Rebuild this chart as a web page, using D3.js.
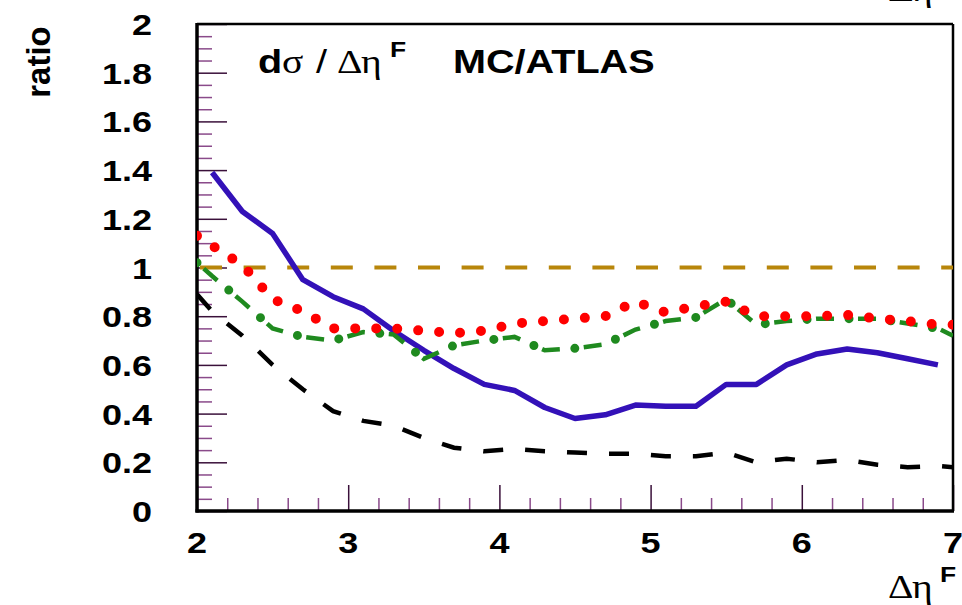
<!DOCTYPE html>
<html>
<head>
<meta charset="utf-8">
<script src="https://cdn.jsdelivr.net/npm/d3@7"></script>
<style>
  body { margin: 0; background: white; }
  svg { display: block; }
</style>
</head>
<body>
<svg id="chart" width="962" height="605"></svg>
<script>
// bin centres along delta eta^F
const binX = [2.0, 2.1, 2.3, 2.5, 2.7, 2.9, 3.1, 3.3, 3.5, 3.7, 3.9, 4.1, 4.3, 4.5,
              4.7, 4.9, 5.1, 5.3, 5.5, 5.7, 5.9, 6.1, 6.3, 6.5, 6.7, 6.9, 7.0];

// ratio MC/ATLAS per generator
const solidBlue = [null, 1.39, 1.23, 1.14, 0.95, 0.88, 0.83, 0.74, 0.66, 0.585, 0.52, 0.495, 0.425, 0.38,
                   0.395, 0.435, 0.43, 0.43, 0.52, 0.52, 0.60, 0.645, 0.665, 0.65, 0.625, 0.60, null];
const dottedRed = [1.13, 1.09, 1.01, 0.87, 0.82, 0.75, 0.75, 0.75, 0.74, 0.73, 0.74, 0.77, 0.78, 0.79,
                   0.80, 0.86, 0.815, 0.84, 0.86, 0.80, 0.80, 0.80, 0.805, 0.79, 0.78, 0.765, 0.765];
const dashDotGreen = [1.02, 0.965, 0.86, 0.75, 0.715, 0.70, 0.735, 0.725, 0.625, 0.68, 0.70, 0.715, 0.66, 0.668,
                      0.685, 0.745, 0.78, 0.795, 0.87, 0.765, 0.78, 0.79, 0.79, 0.79, 0.77, 0.75, 0.72];
const dashedBlack = [0.89, 0.82, 0.72, 0.60, 0.50, 0.41, 0.37, 0.35, 0.30, 0.26, 0.245, 0.255, 0.245, 0.24,
                     0.235, 0.235, 0.225, 0.225, 0.24, 0.20, 0.215, 0.20, 0.21, 0.19, 0.18, 0.185, 0.18];
const unityX = [2.0, 7.0];
const unityY = [1, 1];

const yTickLabels = [0, 0.2, 0.4, 0.6, 0.8, 1, 1.2, 1.4, 1.6, 1.8, 2];
const xTickLabels = [2, 3, 4, 5, 6, 7];

const svg = d3.select('#chart');
const sx = 1.2;   // picture is stretched horizontally
const sans = '"Liberation Sans", Arial, sans-serif';
const serif = '"Liberation Serif", "Times New Roman", serif';

const x = d3.scaleLinear().domain([2, 7]).range([197, 953]);
const y = d3.scaleLinear().domain([0, 2]).range([511, 24]);

svg.append('clipPath').attr('id', 'frame')
   .append('rect')
   .attr('x', x(2)).attr('y', y(2))
   .attr('width', x(7) - x(2)).attr('height', y(0) - y(2));

// ticks, ROOT style (inside the frame)
const yMinor = d3.range(0, 2.001, 0.05).map(v => +v.toFixed(2));
const xMinor = d3.range(2, 7.001, 0.2).map(v => +v.toFixed(1));
const isMajor = v => Math.abs(v * 5 - Math.round(v * 5)) < 1e-6;

const yAxis = svg.append('g')
   .attr('transform', `translate(${x(2)},0)`)
   .call(d3.axisRight(y).tickValues(yMinor).tickFormat('').tickSizeOuter(0));
yAxis.select('.domain').remove();
yAxis.selectAll('.tick line')
   .attr('x2', d => isMajor(d) ? 30 : 15)
   .attr('stroke', d => isMajor(d) ? '#3a103a' : '#8a4a8a')
   .attr('stroke-width', 1.5);

const xAxis = svg.append('g')
   .attr('transform', `translate(0,${y(0)})`)
   .call(d3.axisTop(x).tickValues(xMinor).tickFormat('').tickSizeOuter(0));
xAxis.select('.domain').remove();
xAxis.selectAll('.tick line')
   .attr('y2', d => Number.isInteger(d) ? -26 : -13)
   .attr('stroke', d => Number.isInteger(d) ? '#3a103a' : '#8a4a8a')
   .attr('stroke-width', 1.5);

// frame
svg.append('line').attr('x1', x(2)).attr('x2', x(7)).attr('y1', y(2)).attr('y2', y(2))
   .attr('stroke', '#000').attr('stroke-width', 2.5);
svg.append('line').attr('x1', x(7)).attr('x2', x(7)).attr('y1', y(2)).attr('y2', y(0))
   .attr('stroke', '#000').attr('stroke-width', 2.5);
svg.append('line').attr('x1', x(2)).attr('x2', x(2)).attr('y1', y(2) - 1).attr('y2', y(0) + 1.5)
   .attr('stroke', '#000').attr('stroke-width', 3.5);
svg.append('line').attr('x1', x(2) - 1.5).attr('x2', x(7) + 1).attr('y1', y(0)).attr('y2', y(0))
   .attr('stroke', '#000').attr('stroke-width', 3.5);

// stretched text helper
function put(px, py, txt, opts) {
   const o = Object.assign({ anchor: 'start', family: sans, weight: 'bold', size: 30 }, opts || {});
   svg.append('g')
      .attr('transform', `translate(${px},${py}) scale(${sx},1)`)
      .append('text')
      .attr('text-anchor', o.anchor)
      .style('font-family', o.family)
      .style('font-weight', o.weight)
      .style('font-size', o.size + 'px')
      .text(txt);
}

// tick labels
yTickLabels.forEach(v => put(152, y(v) + 11, String(v), { anchor: 'end' }));
xTickLabels.forEach(v => put(x(v), 553, String(v), { anchor: 'middle' }));

// curves
const plot = svg.append('g').attr('clip-path', 'url(#frame)');
const line = d3.line()
   .defined(d => d[1] !== null)
   .x(d => x(d[0])).y(d => y(d[1]));
const pts = vals => binX.map((b, i) => [b, vals[i]]);

plot.append('path')
   .attr('d', line(unityX.map((v, i) => [v, unityY[i]])))
   .attr('fill', 'none').attr('stroke', '#b8860b').attr('stroke-width', 4)
   .attr('stroke-dasharray', '22,21.6').attr('stroke-dashoffset', 40.6);

plot.append('path')
   .attr('d', line(pts(dashedBlack)))
   .attr('fill', 'none').attr('stroke', '#000').attr('stroke-width', 4.5)
   .attr('stroke-dasharray', '20,22');

plot.append('path')
   .attr('d', line(pts(solidBlue)))
   .attr('fill', 'none').attr('stroke', '#3311b8').attr('stroke-width', 5.5)
   .attr('stroke-linejoin', 'round');

plot.append('path')
   .attr('d', line(pts(dashDotGreen)))
   .attr('fill', 'none').attr('stroke', '#1f8a1f').attr('stroke-width', 4.5)
   .attr('stroke-dasharray', '18,24').attr('stroke-dashoffset', 33);
plot.append('path')
   .attr('d', line(pts(dashDotGreen)))
   .attr('fill', 'none').attr('stroke', '#1f8a1f').attr('stroke-width', 9)
   .attr('stroke-linecap', 'round')
   .attr('stroke-dasharray', '0,42');

plot.append('path')
   .attr('d', line(pts(dottedRed)))
   .attr('fill', 'none').attr('stroke', '#ff0000').attr('stroke-width', 10)
   .attr('stroke-linecap', 'round')
   .attr('stroke-dasharray', '0,21');

// title pieces
put(258, 73, 'd', { size: 33 });
put(282, 73, 'σ', { family: serif, weight: 'normal', size: 33 });
put(316, 73, '/', { weight: 'normal', size: 33 });
put(337, 73, 'Δ', { family: serif, weight: 'normal', size: 33 });
put(361, 73, 'η', { family: serif, weight: 'normal', size: 33 });
put(390, 57, 'F', { size: 22 });
put(453, 73, 'MC/ATLAS', { size: 33 });

// y title
svg.append('text')
   .attr('transform', 'translate(50,62) rotate(-90)')
   .attr('text-anchor', 'middle')
   .style('font-family', sans).style('font-weight', 'bold').style('font-size', '33px')
   .text('ratio');

// x title
put(888, 598, 'Δ', { family: serif, weight: 'normal', size: 33 });
put(912, 598, 'η', { family: serif, weight: 'normal', size: 33 });
put(940, 582, 'F', { size: 22 });

// remnant of a neighbouring label, cut at the top edge
put(888, 1, 'Δ', { family: serif, weight: 'normal', size: 33 });
put(912, 1, 'η', { family: serif, weight: 'normal', size: 33 });
</script>
</body>
</html>
